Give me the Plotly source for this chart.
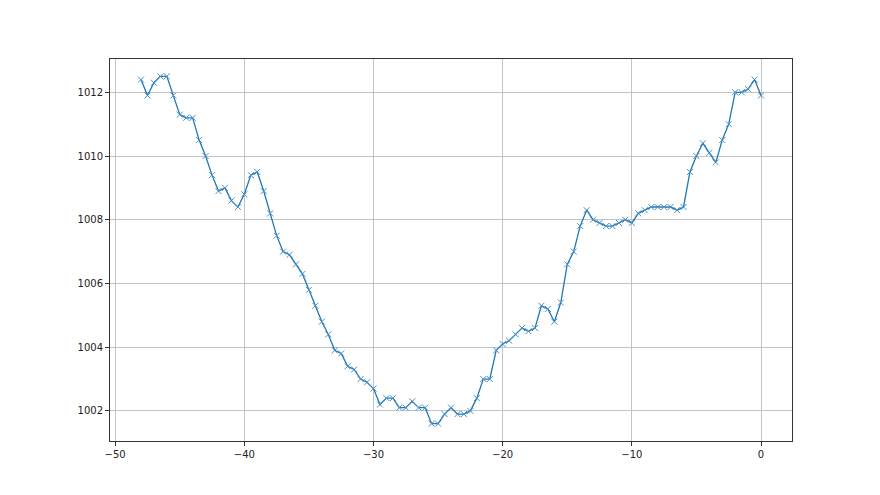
import plotly.graph_objects as go

# hours relative to now, pressure in hPa
hours = [-48 + 0.5 * i for i in range(97)]
pressure = [
    1012.4, 1011.9, 1012.3, 1012.5, 1012.5, 1011.9, 1011.3, 1011.2, 1011.2, 1010.5,
    1010.0, 1009.4, 1008.9, 1009.0, 1008.6, 1008.4, 1008.8, 1009.4, 1009.5, 1008.9,
    1008.2, 1007.5, 1007.0, 1006.9, 1006.6, 1006.3, 1005.8, 1005.3, 1004.8, 1004.4,
    1003.9, 1003.8, 1003.4, 1003.3, 1003.0, 1002.9, 1002.7, 1002.2, 1002.4, 1002.4,
    1002.1, 1002.1, 1002.3, 1002.1, 1002.1, 1001.6, 1001.6, 1001.9, 1002.1, 1001.9,
    1001.9, 1002.0, 1002.4, 1003.0, 1003.0, 1003.9, 1004.1, 1004.2, 1004.4, 1004.6,
    1004.5, 1004.6, 1005.3, 1005.2, 1004.8, 1005.4, 1006.6, 1007.0, 1007.8, 1008.3,
    1008.0, 1007.9, 1007.8, 1007.8, 1007.9, 1008.0, 1007.9, 1008.2, 1008.3, 1008.4,
    1008.4, 1008.4, 1008.4, 1008.3, 1008.4, 1009.5, 1010.0, 1010.4, 1010.1, 1009.8,
    1010.5, 1011.0, 1012.0, 1012.0, 1012.1, 1012.4, 1011.9,
]
x_ticks = [-50, -40, -30, -20, -10, 0]
y_ticks = [1002, 1004, 1006, 1008, 1010, 1012]

fig = go.Figure(go.Scatter(
    x=hours, y=pressure, mode="lines+markers",
    line=dict(color="#1f77b4", width=1.3),
    marker=dict(symbol="x-thin", size=6, line=dict(width=1, color="#4a90c8")),
))

axis_style = dict(
    showline=True, linecolor="#333333", linewidth=1, mirror=True,
    ticks="outside", ticklen=4, tickcolor="#333333",
    showgrid=True, gridcolor="#c4c4c4", gridwidth=0.8,
    zeroline=False, tickfont=dict(family="DejaVu Sans", size=10, color="#222222"),
)
fig.update_xaxes(range=[-50.4, 2.4], tickvals=x_ticks, **axis_style)
fig.update_yaxes(range=[1001.055, 1013.045], tickvals=y_ticks, **axis_style)
# page body adds an 8px margin, so the figure is a bit smaller
fig.update_layout(
    width=872, height=487,
    margin=dict(l=102, r=88, t=51, b=54),
    paper_bgcolor="white", plot_bgcolor="white",
    showlegend=False,
)
fig.write_html("out.html")
